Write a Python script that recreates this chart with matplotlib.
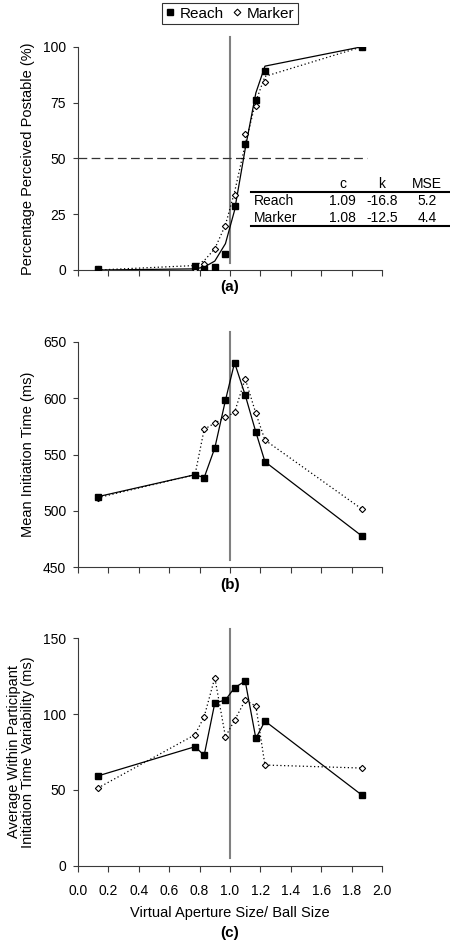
import matplotlib
matplotlib.use("Agg")
import matplotlib.pyplot as plt
from matplotlib.lines import Line2D

plt.rcParams['font.family'] = ['Liberation Sans', 'DejaVu Sans']
plt.rcParams['font.size'] = 10

# x: virtual aperture size / ball size
ratio = [0.13, 0.77, 0.83, 0.90, 0.97, 1.03, 1.10, 1.17, 1.23, 1.87]

# (a) percentage perceived passable
pct_reach = [0.3, 1.9, 0.3, 1.5, 7.2, 28.8, 56.4, 76.1, 89.3, 100]
pct_marker = [0.3, 0.6, 2.7, 9.3, 19.7, 33.4, 61.0, 73.4, 84.0, 100]
# fitted logistic values at the same x (c, k from the table)
fit_reach = [0.0, 0.5, 1.3, 4.0, 11.8, 26.7, 54.2, 79.3, 91.3, 100]
fit_marker = [0.0, 2.0, 4.2, 9.5, 20.2, 34.9, 56.2, 75.5, 86.7, 100]

# (b) mean initiation time (ms)
mit_reach = [512.6, 532.1, 529.5, 555.8, 598.0, 631.4, 602.7, 569.9, 543.6, 477.5]
mit_marker = [511.7, 532.1, 572.3, 577.9, 582.9, 587.4, 617.2, 586.5, 562.8, 501.4]

# (c) within participant initiation time variability (ms)
var_reach = [59.2, 78.5, 72.8, 107.3, 109.3, 117.4, 121.8, 84.0, 95.4, 46.4]
var_marker = [51.2, 86.4, 98.3, 124.0, 85.1, 95.9, 109.1, 105.3, 66.4, 64.4]

table_rows = ["Reach", "Marker"]
table_cols = ["c", "k", "MSE"]
table_vals = [["1.09", "-16.8", "5.2"], ["1.08", "-12.5", "4.4"]]

W, H = 450, 942
fig = plt.figure(figsize=(W / 100, H / 100), dpi=100)
axis_col = "#3a3a3a"


def fx(px):
    return px / W


def fy(py):
    return 1 - py / H


def make_axes(top, bottom):
    ax = fig.add_axes([fx(78), fy(bottom), fx(304), (bottom - top) / H])
    for s in ["top", "right"]:
        ax.spines[s].set_visible(False)
    for s in ["left", "bottom"]:
        ax.spines[s].set_linewidth(0.8)
        ax.spines[s].set_color(axis_col)
    ax.set_xlim(0, 2.0)
    ax.set_xticks([0.2 * i for i in range(11)])
    ax.tick_params(direction="out", width=0.8, color=axis_col, labelsize=10)
    ax.tick_params(axis="x", length=4, pad=9)
    ax.tick_params(axis="y", length=3.5, pad=5)
    ax.axvline(1.0, ymin=0.032, ymax=1.043, color="#808080", lw=1.5,
               clip_on=False, zorder=1)
    return ax


reach_kw = dict(color="black", marker="s", markersize=3.8, lw=0.9,
                markerfacecolor="black", zorder=4)
marker_kw = dict(color="black", marker="D", markersize=3.2, lw=0.9,
                 markerfacecolor="white", markeredgewidth=0.8,
                 linestyle=(0, (1, 2)), zorder=3)

# ---- (a)
ax1 = make_axes(46.7, 270)
ax1.set_ylim(0, 100)
ax1.set_yticks([0, 25, 50, 75, 100])
ax1.set_xticklabels([])
ax1.plot([0, 1.9], [50, 50], color="#333333", lw=0.9, linestyle=(0, (7, 3.5)), zorder=2)
ax1.plot(ratio, fit_reach, color="black", lw=0.9, zorder=3)
ax1.plot(ratio, fit_marker, color="black", lw=0.9, linestyle=(0, (1, 2)), zorder=3)
ax1.plot(ratio, pct_marker, linestyle="none", marker="D", markersize=3.2,
         markerfacecolor="white", markeredgecolor="black", markeredgewidth=0.8, zorder=4)
ax1.plot(ratio, pct_reach, linestyle="none", marker="s", markersize=3.8,
         color="black", zorder=5)
ax1.set_ylabel("Percentage Perceived Postable (%)", fontsize=10.5, labelpad=6)
fig.text(fx(230), fy(287), "(a)", ha="center", va="center", fontsize=11, fontweight="bold")

# table inside panel (a)
col_x = [342.7, 382, 427]
for j, name in enumerate(table_cols):
    fig.text(fx(col_x[j]), fy(183.7), name, ha="center", va="center", fontsize=10)
for i, row in enumerate(table_rows):
    yy = 200.7 + i * 17.6
    fig.text(fx(254), fy(yy), row, ha="left", va="center", fontsize=10)
    for j, v in enumerate(table_vals[i]):
        fig.text(fx(col_x[j]), fy(yy), v, ha="center", va="center", fontsize=10)
for yy in [191.7, 226]:
    fig.add_artist(Line2D([fx(251), fx(449)], [fy(yy), fy(yy)], color="black", lw=1.5))

# ---- (b)
ax2 = make_axes(341.7, 567.3)
ax2.set_ylim(450, 650)
ax2.set_yticks([450, 500, 550, 600, 650])
ax2.set_xticklabels([])
ax2.plot(ratio, mit_marker, **marker_kw)
ax2.plot(ratio, mit_reach, **reach_kw)
ax2.set_ylabel("Mean Initiation Time (ms)", fontsize=10.5, labelpad=6)
fig.text(fx(230), fy(585), "(b)", ha="center", va="center", fontsize=11, fontweight="bold")

# ---- (c)
ax3 = make_axes(638.3, 865.7)
ax3.set_ylim(0, 150)
ax3.set_yticks([0, 50, 100, 150])
ax3.set_xticklabels([f"{0.2 * i:.1f}" for i in range(11)])
ax3.plot(ratio, var_marker, **marker_kw)
ax3.plot(ratio, var_reach, **reach_kw)
ax3.set_ylabel("Average Within Participant\nInitiation Time Variability (ms)",
               fontsize=10.5, labelpad=6, linespacing=1.0)
ax3.set_xlabel("Virtual Aperture Size/ Ball Size", fontsize=10.5, labelpad=6)
fig.text(fx(230), fy(933), "(c)", ha="center", va="center", fontsize=11, fontweight="bold")

# legend at the top
handles = [
    Line2D([], [], linestyle="none", marker="s", markersize=4, color="black"),
    Line2D([], [], linestyle="none", marker="D", markersize=3.4,
           markerfacecolor="white", markeredgecolor="black", markeredgewidth=0.8),
]
leg = fig.legend(handles, ["Reach", "Marker"], loc="center", ncol=2,
                 bbox_to_anchor=(fx(230), fy(13.5)), fontsize=11, frameon=True,
                 fancybox=False, handlelength=0.6, handletextpad=0.3,
                 columnspacing=0.6, borderpad=0.25, borderaxespad=0)
leg.get_frame().set_edgecolor("black")
leg.get_frame().set_linewidth(0.8)

fig.savefig("out.png", dpi=100)
